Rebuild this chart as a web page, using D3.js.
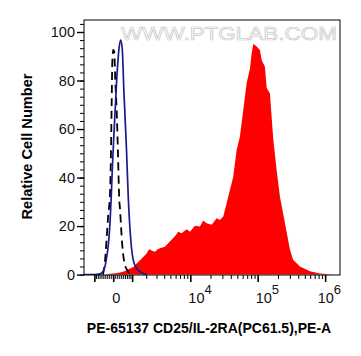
<!DOCTYPE html>
<html>
<head>
<meta charset="utf-8">
<script src="https://cdn.jsdelivr.net/npm/d3@7"></script>
<style>
  html, body { margin: 0; padding: 0; background: #fff; }
  svg { display: block; }
</style>
</head>
<body>
<svg id="chart" width="361" height="356"></svg>
<script>
// ---------------- data ----------------
// fluorescence value (PE-A) and relative cell number (%)
const redValues = [
  [-400,0],[-150,0.3],[100,0.6],[350,0.9],[600,1.5],[870,2.5],[1100,3.2],[1280,4.6],[1500,5.8],
  [1770,7.4],[2050,8.8],[2180,10.0],[2330,10.4],[2500,9.8],[2840,9.4],[3100,10.3],[3420,10.9],
  [4100,11.5],[4900,13.6],[5860,15.8],[6580,17.7],[7400,17.0],[8800,18.7],[9900,17.7],
  [11700,20.1],[13900,19.8],[15600,22.3],[17500,21.2],[20800,20.5],[24700,23.2],[27600,22.5],
  [30900,24.0],[34700,29.4],[38800,35],[41200,37.7],[43500,40.4],[48800,51.4],[54600,56.9],
  [61200,67.9],[68700,79],[76900,85],[81500,91.2],[86000,95.0],[88100,94.9],[96600,94],
  [108000,92.6],[114600,88.5],[128000,85.7],[136000,77],[152000,74.7],[170000,56],
  [191000,43.1],[214000,32.1],[254000,21.2],[301000,10.2],[337000,6],[423000,3.3],
  [595000,1.4],[837000,0.5],[1180000,0.1],[1400000,0]
];
const blueValues = [
  [-1700,0],[-965,0],[-681,0.3],[-547,1],[-416,3.3],[-299,8.8],[-249,12],[-164,21],[-100,32],
  [-40,45],[59,62],[169,80],[284,93],[370,96.7],[452,93],[541,75],[675,52],[775,32],[912,15],
  [1068,6],[1283,2.6],[1640,0.8],[2040,0]
];
const dashedValues = [
  [-520,0],[-504,0.6],[-416,5.4],[-329,15],[-249,24.6],[-164,32.8],[-114,50],[-79,70],[-49,87],
  [0,92.6],[49,91.9],[99,80],[169,67.8],[234,50],[299,30.8],[334,27.4],[385,20.5],[452,12.2],
  [594,4],[775,1.2],[989,0]
];
const yTickLabels = [0, 20, 40, 60, 80, 100];
const yMinorTicks = d3.range(0, 105, 10 / 3);
const xMajorTicks = [-1000, 0, 1000, 10000, 100000, 1000000];
const xTickLabels = [
  {v: 0, base: "0", exp: ""},
  {v: 10000, base: "10", exp: "4"},
  {v: 100000, base: "10", exp: "5"},
  {v: 1000000, base: "10", exp: "6"}
];
const xMinorTicks = [].concat(
  d3.range(-900, 0, 100), d3.range(100, 1000, 100),
  d3.range(2000, 10000, 1000), d3.range(20000, 100000, 10000), d3.range(200000, 1000000, 100000)
);
const xTitle = "PE-65137 CD25/IL-2RA(PC61.5),PE-A";
const yTitle = "Relative Cell Number";
const watermark = "WWW.PTGLAB.COM";

// ---------------- layout ----------------
const L = 84, R = 340, T = 20, B = 275;
const W_LIN = 1450;                       // biexponential width parameter
const tf = v => Math.asinh(v / W_LIN);
const x = d3.scaleLinear().domain([tf(-1700), tf(1.66e6)]).range([L, R]);
const xp = v => x(tf(v));
const y = d3.scaleLinear().domain([0, 100]).range([274.6, 32]);

const svg = d3.select("#chart");
const FONT = "'Liberation Sans', Arial, sans-serif";

svg.append("defs").append("clipPath").attr("id", "clip")
  .append("rect").attr("x", L).attr("y", T).attr("width", R - L).attr("height", B - T);

// watermark
svg.append("text")
  .attr("x", 121).attr("y", 39.5)
  .attr("font-family", FONT).attr("font-size", 18.5)
  .attr("textLength", 216).attr("lengthAdjust", "spacingAndGlyphs")
  .attr("fill", "#ffffff").attr("stroke", "#c8c8c8").attr("stroke-width", 0.7)
  .text(watermark);

const g = svg.append("g").attr("clip-path", "url(#clip)");

// red filled sample
g.append("path")
  .datum(redValues)
  .attr("fill", "#ff0000")
  .attr("d", d3.area().x(d => xp(d[0])).y0(y(0)).y1(d => y(d[1])).curve(d3.curveLinear));

// black dashed control
g.append("path")
  .datum(dashedValues)
  .attr("fill", "none").attr("stroke", "#000").attr("stroke-width", 1.8)
  .attr("stroke-dasharray", "8,5")
  .attr("d", d3.line().x(d => xp(d[0])).y(d => y(d[1])).curve(d3.curveMonotoneX));

// blue control
g.append("path")
  .datum(blueValues)
  .attr("fill", "none").attr("stroke", "#1a1a8c").attr("stroke-width", 1.7)
  .attr("d", d3.line().x(d => xp(d[0])).y(d => y(d[1])).curve(d3.curveMonotoneX));

// frame
svg.append("rect").attr("x", L).attr("y", T).attr("width", R - L).attr("height", B - T)
  .attr("fill", "none").attr("stroke", "#000").attr("stroke-width", 1);

// x axis ticks
const xAxisG = svg.append("g").attr("transform", `translate(0,${B})`);
xAxisG.call(d3.axisBottom(x).tickValues(xMinorTicks.map(tf)).tickSize(4).tickFormat(""))
  .call(a => a.select(".domain").remove())
  .call(a => a.selectAll("line").attr("stroke-width", 1));
const xAxisG2 = svg.append("g").attr("transform", `translate(0,${B})`);
xAxisG2.call(d3.axisBottom(x).tickValues(xMajorTicks.map(tf)).tickSize(7).tickFormat(""))
  .call(a => a.select(".domain").remove())
  .call(a => a.selectAll("line").attr("stroke-width", 1.6));

// x tick labels
const xl = svg.append("g").attr("font-family", FONT).attr("fill", "#111");
xTickLabels.forEach(d => {
  const px = xp(d.v);
  if (!d.exp) {
    xl.append("text").attr("x", px + 3).attr("y", 303).attr("text-anchor", "middle")
      .attr("font-size", 14.5).text(d.base);
  } else {
    const t = xl.append("text").attr("y", 303).attr("font-size", 14.5);
    t.append("tspan").text(d.base);
    t.append("tspan").attr("dy", -9).attr("font-size", 13).text(d.exp);
    const w = t.node().getComputedTextLength();
    let x0 = px - 2;
    if (x0 + w > 341) x0 = 341 - w;
    t.attr("x", x0);
  }
});

// y axis
const yAxisG = svg.append("g").attr("transform", `translate(${L},0)`);
yAxisG.call(d3.axisLeft(y).tickValues(yMinorTicks).tickSize(4).tickFormat(""))
  .call(a => a.select(".domain").remove());
const yAxisG2 = svg.append("g").attr("transform", `translate(${L},0)`);
yAxisG2.call(d3.axisLeft(y).tickValues(yTickLabels).tickSize(7).tickPadding(2))
  .call(a => a.select(".domain").remove())
  .call(a => a.selectAll("line").attr("stroke-width", 1.4))
  .call(a => a.selectAll("text").attr("font-family", FONT).attr("font-size", 14.5).attr("fill", "#111"));

// titles
svg.append("text")
  .attr("x", 209).attr("y", 333).attr("text-anchor", "middle")
  .attr("font-family", FONT).attr("font-weight", "bold").attr("font-size", 14)
  .text(xTitle);
svg.append("text")
  .attr("transform", "translate(31.5,146.5) rotate(-90)").attr("text-anchor", "middle")
  .attr("font-family", FONT).attr("font-weight", "bold").attr("font-size", 14.6)
  .text(yTitle);
</script>
</body>
</html>
